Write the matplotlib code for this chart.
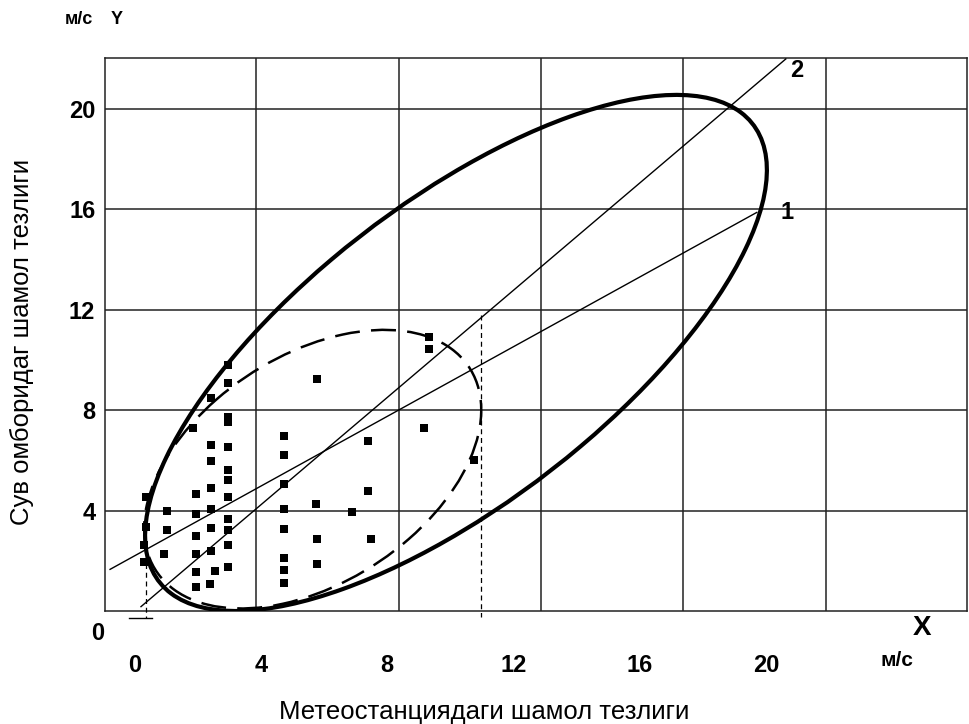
import numpy as np
import matplotlib
matplotlib.use("Agg")
import matplotlib.pyplot as plt
from matplotlib.patches import Ellipse

plt.rcParams['font.family'] = ['Liberation Sans', 'DejaVu Sans']

# ---------------- data ----------------
pts_x = [0.35, 0.35, 0.31, 0.28,
         1.02, 1.02, 0.94,
         1.84, 1.94, 1.94, 1.94, 1.94, 1.94, 1.94,
         2.42, 2.42, 2.42, 2.42, 2.42, 2.42, 2.42, 2.55, 2.39,
         2.97, 2.97, 2.97, 2.97, 2.97, 2.97, 2.97, 2.97, 2.97, 2.97, 2.97, 2.97,
         4.73, 4.73, 4.73, 4.73, 4.73, 4.73, 4.73, 4.73,
         5.75, 5.79, 5.79, 5.79,
         6.88,
         7.38, 7.38, 7.49,
         9.18, 9.33, 9.33,
         10.75]
pts_y = [4.55, 3.36, 2.63, 1.96,
         4.00, 3.23, 2.26,
         7.30, 4.66, 3.86, 2.99, 2.26, 1.57, 0.97,
         8.47, 6.61, 5.98, 4.89, 4.06, 3.29, 2.39, 1.59, 1.06,
         9.80, 9.10, 7.74, 7.54, 6.55, 5.62, 5.22, 4.55, 3.66, 3.22, 2.63, 1.77,
         6.97, 6.22, 5.06, 4.05, 3.27, 2.12, 1.63, 1.10,
         4.26, 9.23, 2.87, 1.86,
         3.93,
         6.78, 4.79, 2.87,
         7.30, 10.93, 10.43,
         6.02]

# regression lines: (slope, intercept, x_start, x_end, label)
line1 = dict(slope=0.694, intercept=2.20, x0=-0.78, x1=19.71, label="1")
line2 = dict(slope=1.068, intercept=-0.04, x0=0.20, x1=20.63, label="2")

# envelopes: centre, x-semi-range, y-semi-range, cos of phase shift
outer_ell = dict(cx=10.18, cy=10.28, rx=9.85, ry=10.28, cphi=0.709)
inner_ell = dict(cx=5.64, cy=5.65, rx=5.34, ry=5.55, cphi=0.425)

x_ticks = [0, 4, 8, 12, 16, 20]
y_ticks = [4, 8, 12, 16, 20]
x_grid = [3.85, 8.36, 12.87, 17.38, 21.89]
x_lim = (-0.94, 26.37)
y_lim = (0, 22.03)

# ---------------- figure ----------------
fig = plt.figure(figsize=(9.69, 7.24), dpi=100)
ax = fig.add_axes([105/969, 1-611/724, (967-105)/969, (611-58)/724])
ax.set_xlim(*x_lim)
ax.set_ylim(*y_lim)

for s in ax.spines.values():
    s.set_linewidth(1.1)
    s.set_color('#222222')

ax.set_xticks(x_ticks)
ax.set_xticklabels([str(v) for v in x_ticks], fontsize=17, fontweight='bold')
ax.set_xticks(x_grid, minor=True)
ax.set_yticks(y_ticks)
ax.set_yticklabels([str(v) for v in y_ticks], fontsize=17, fontweight='bold')
ax.tick_params(axis='x', which='both', length=0, pad=31)
ax.tick_params(axis='y', which='both', length=0, pad=7)
ax.grid(False)
ax.xaxis.grid(True, which='minor', color='#222222', lw=1.1)
ax.yaxis.grid(True, which='major', color='#222222', lw=1.1)
ax.set_axisbelow(True)


def make_ellipse(e, **kw):
    sphi = np.sqrt(1 - e['cphi'] ** 2)
    M = np.array([[e['rx'], 0.0], [e['ry'] * e['cphi'], e['ry'] * sphi]])
    U, S, Vt = np.linalg.svd(M)
    ang = np.degrees(np.arctan2(U[1, 0], U[0, 0]))
    return Ellipse((e['cx'], e['cy']), 2 * S[0], 2 * S[1], angle=ang,
                   fill=False, **kw)


ax.add_patch(make_ellipse(inner_ell, lw=1.8, color='black',
                          linestyle=(0, (10, 4.5)), zorder=4))
ax.add_patch(make_ellipse(outer_ell, lw=3.0, color='black', zorder=4))

for ln, off in ((line1, (22, 0)), (line2, (8, -8))):
    xs = np.array([ln['x0'], ln['x1']])
    ys = ln['slope'] * xs + ln['intercept']
    ax.plot(xs, ys, color='black', lw=1.0, zorder=3)
    ax.annotate(ln['label'], (xs[-1], ys[-1]), xytext=off,
                textcoords='offset points', ha='center', va='center',
                fontsize=17, fontweight='bold', annotation_clip=False)

ax.scatter(pts_x, pts_y, marker='s', s=26, color='black', zorder=5,
           linewidths=0)

# dashed limits of inner envelope
xl = min(pts_x) + 0.08
xr = max(pts_x) + 0.21
ax.plot([xl, xl], [2.6, -0.28], color='black', lw=0.9,
        linestyle=(0, (4, 3)), clip_on=False, zorder=3)
ax.plot([xr, xr], [11.8, -0.25], color='black', lw=0.9,
        linestyle=(0, (4, 3)), clip_on=False, zorder=3)
ax.plot([xl - 0.53, xl + 0.2], [-0.28, -0.28], color='black', lw=1.0,
        clip_on=False)

# extra labels
fig.text(79/969, 1-20/724, "м/с", fontsize=13, fontweight='bold',
         ha='center', va='center')
fig.text(117/969, 1-19/724, "Y", fontsize=13, fontweight='bold',
         ha='center', va='center')
fig.text(98/969, 1-633/724, "0", fontsize=17, fontweight='bold',
         ha='center', va='center')
fig.text(922/969, 1-628/724, "X", fontsize=20, fontweight='bold',
         ha='center', va='center')
fig.text(897/969, 1-661/724, "м/с", fontsize=15, fontweight='bold',
         ha='center', va='center')

fig.text(484/969, 1-712/724, "Метеостанциядаги шамол тезлиги",
         fontsize=18.5, ha='center', va='center')
fig.text(22/969, 1-342/724, "Сув омборидаг шамол тезлиги",
         fontsize=18.5, ha='center', va='center', rotation=90)

fig.savefig("out.png", dpi=100)
